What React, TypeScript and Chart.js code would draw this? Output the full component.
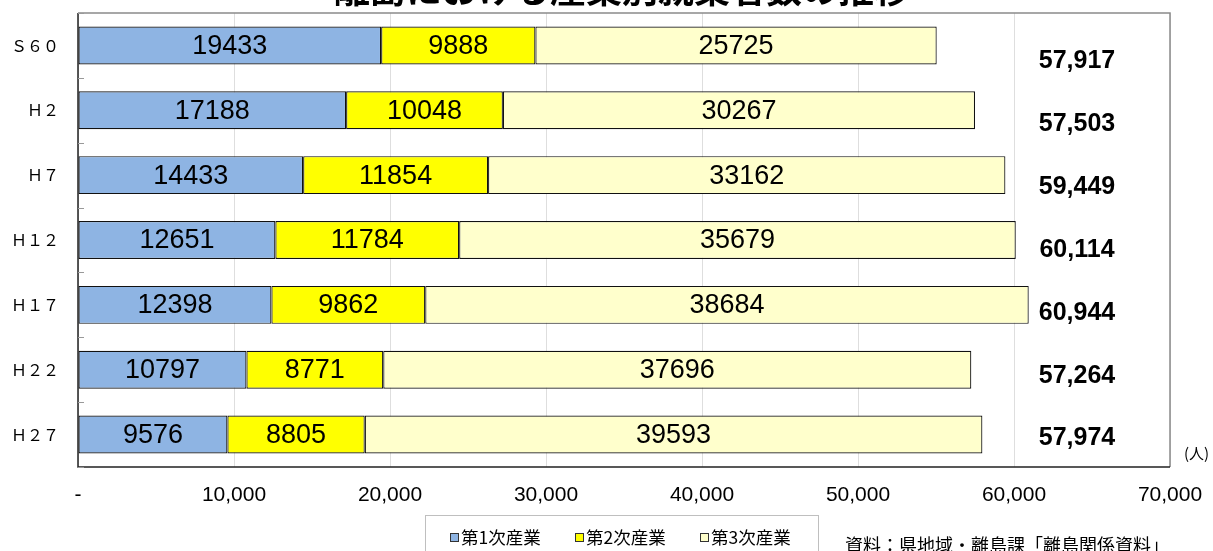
import React, { useEffect, useRef } from "react";
import { Chart, registerables } from "chart.js";

Chart.register(...registerables);

const categories = ["Ｓ６０", "Ｈ２", "Ｈ７", "Ｈ１２", "Ｈ１７", "Ｈ２２", "Ｈ２７"];
const primary = [19433, 17188, 14433, 12651, 12398, 10797, 9576];
const secondary = [9888, 10048, 11854, 11784, 9862, 8771, 8805];
const tertiary = [25725, 30267, 33162, 35679, 38684, 37696, 39593];
const totals = ["57,917", "57,503", "59,449", "60,114", "60,944", "57,264", "57,974"];
const seriesNames = ["第1次産業", "第2次産業", "第3次産業"];
const seriesColors = ["#8EB4E3", "#FFFF00", "#FFFFCC"];
const titleText = "離島における産業別就業者数の推移";
const unitText = "(人)";
const sourceText = "資料：県地域・離島課「離島関係資料」";

const overlay = {
  id: "overlay",
  afterDatasetsDraw(chart: any) {
    const ctx = chart.ctx;
    ctx.save();
    ctx.font = "27px 'Liberation Sans', Arial, sans-serif";
    ctx.fillStyle = "#000";
    ctx.textAlign = "center";
    ctx.textBaseline = "middle";
    chart.data.datasets.forEach((ds: any, di: number) => {
      const meta = chart.getDatasetMeta(di);
      meta.data.forEach((el: any, i: number) => {
        const p = el.getCenterPoint();
        ctx.fillText(String(ds.data[i]), p.x, p.y + 1);
      });
    });
    ctx.restore();
  },
  afterDraw(chart: any) {
    const ctx = chart.ctx;
    const a = chart.chartArea;
    const ys = chart.scales.y;
    ctx.save();
    // border
    ctx.lineWidth = 1.5;
    ctx.strokeStyle = "#8a8a8a";
    ctx.beginPath();
    ctx.moveTo(a.left, a.top);
    ctx.lineTo(a.right, a.top);
    ctx.lineTo(a.right, a.bottom);
    ctx.stroke();
    ctx.strokeStyle = "#222";
    ctx.beginPath();
    ctx.moveTo(a.left, a.top);
    ctx.lineTo(a.left, a.bottom);
    ctx.lineTo(a.right, a.bottom);
    ctx.stroke();
    // small ticks at category boundaries
    ctx.strokeStyle = "#999";
    ctx.lineWidth = 1;
    for (let i = 0; i <= categories.length; i++) {
      const y = Math.round(ys.getPixelForValue(i - 0.5)) + 0.5;
      ctx.beginPath();
      ctx.moveTo(a.left, y);
      ctx.lineTo(a.left + 6, y);
      ctx.stroke();
    }
    // title (clipped at top)
    ctx.fillStyle = "#000";
    ctx.textAlign = "center";
    ctx.textBaseline = "alphabetic";
    ctx.font = "bold 36px 'Noto Sans CJK JP', sans-serif";
    ctx.fillText(titleText, 622, 3);
    // totals
    ctx.font = "bold 25px 'Liberation Sans', Arial, sans-serif";
    ctx.textBaseline = "middle";
    totals.forEach((t, i) => {
      const y = ys.getPixelForValue(i) + 16 - i * 2;
      ctx.fillText(t, a.right - 93, y);
    });
    // unit
    ctx.font = "15px 'Noto Sans CJK JP', sans-serif";
    ctx.textAlign = "left";
    ctx.fillText(unitText, a.right + 14, 453);
    // legend box
    ctx.strokeStyle = "#bfbfbf";
    ctx.lineWidth = 1;
    ctx.strokeRect(425.5, 515.5, 393, 60);
    const lx = [450, 575, 700];
    ctx.font = "17.5px 'Noto Sans CJK JP', sans-serif";
    ctx.textBaseline = "middle";
    seriesNames.forEach((n, i) => {
      ctx.fillStyle = seriesColors[i];
      ctx.fillRect(lx[i], 533, 8, 8);
      ctx.strokeStyle = "#333";
      ctx.strokeRect(lx[i] + 0.5, 533.5, 8, 8);
      ctx.fillStyle = "#000";
      ctx.fillText(n, lx[i] + 11, 537);
    });
    // source
    ctx.font = "18px 'Noto Sans CJK JP', sans-serif";
    ctx.fillText(sourceText, 845, 545);
    ctx.restore();
  },
};

export default function App() {
  const ref = useRef<HTMLCanvasElement>(null);
  useEffect(() => {
    if (!ref.current) return;
    const chart = new Chart(ref.current, {
      type: "bar",
      data: {
        labels: categories,
        datasets: [primary, secondary, tertiary].map((d, i) => ({
          label: seriesNames[i],
          data: d,
          backgroundColor: seriesColors[i],
          borderColor: "#111",
          borderWidth: 1.2,
          borderSkipped: false,
          categoryPercentage: 1,
          barPercentage: 0.585,
        })),
      },
      options: {
        indexAxis: "y",
        animation: false,
        responsive: false,
        devicePixelRatio: 1,
        layout: { padding: { left: 0, right: 43, top: 13, bottom: 0 } },
        plugins: { legend: { display: false }, tooltip: { enabled: false }, title: { display: false } },
        scales: {
          x: {
            stacked: true,
            min: 0,
            max: 70000,
            grid: { color: "#dedede", drawTicks: false },
            border: { display: false },
            ticks: {
              stepSize: 10000,
              padding: 16,
              color: "#000",
              font: { family: "'Liberation Sans', Arial, sans-serif", size: 21 },
              callback: (v: any) => (v === 0 ? "-" : Number(v).toLocaleString("en-US")),
            },
            afterFit: (s: any) => {
              s.height = 84;
              s.paddingLeft = 0;
              s.paddingRight = 0;
            },
          },
          y: {
            stacked: true,
            grid: { display: false, drawTicks: false },
            border: { display: false },
            ticks: {
              padding: 19,
              color: "#000",
              font: { family: "'Noto Sans CJK JP', sans-serif", size: 16 },
            },
            afterFit: (s: any) => {
              s.width = 78;
              s.paddingTop = 0;
              s.paddingBottom = 0;
            },
          },
        },
      },
      plugins: [overlay],
    });
    return () => chart.destroy();
  }, []);
  return (
    <div style={{ position: "absolute", left: 0, top: 0, width: 1213, height: 551, background: "#fff" }}>
      <canvas ref={ref} width={1213} height={551} style={{ display: "block" }} />
    </div>
  );
}
